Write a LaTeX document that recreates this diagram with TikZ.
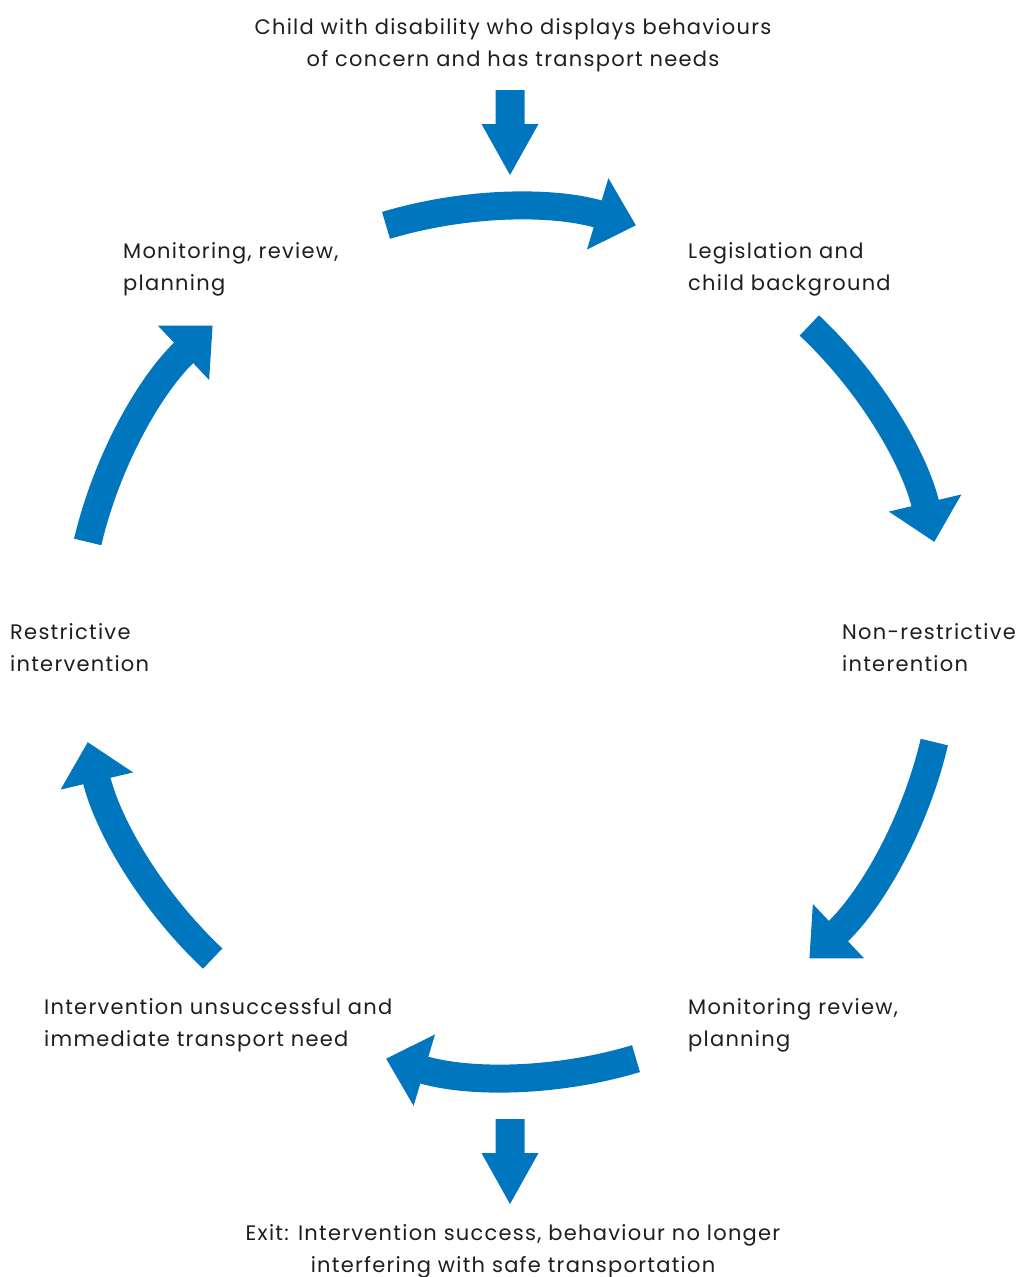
\documentclass[tikz,border=0pt]{standalone}
\usepackage{fontspec}
\setmainfont[LetterSpace=6]{Poppins}
\usetikzlibrary{arrows.meta,calc}
\definecolor{flowblue}{RGB}{0,118,190}
\definecolor{txt}{RGB}{30,30,30}
\begin{document}
\begin{tikzpicture}[x=1pt,y=1pt,
  lbl/.style={inner sep=0pt, text=txt, font=\fontsize{21}{32}\selectfont, align=left, anchor=base west},
  clbl/.style={lbl, align=center, anchor=base},
  cyc/.style={draw=flowblue, line width=28pt, -{Triangle[width=72pt,length=40pt]}},
  downarrow/.style={fill=flowblue}
]
\useasboundingbox (0,0) rectangle (1022,-1277);
\coordinate (C) at (511,-642);
% cycle arcs
\foreach \m in {90,30,-30,-90,-150,150}{
  \draw[cyc] ($(C)+(\m+16.7:435pt)$) arc[start angle=\m+16.7, end angle=\m-16.7, radius=435pt];
}
% down arrows
\fill[downarrow] (495.5,-90) -- (524.5,-90) -- (524.5,-124) -- (538.5,-124) -- (510,-175) -- (481.5,-124) -- (495.5,-124) -- cycle;
\fill[downarrow] (495.5,-1119) -- (524.5,-1119) -- (524.5,-1153) -- (538.5,-1153) -- (510,-1204) -- (481.5,-1153) -- (495.5,-1153) -- cycle;
% labels (base anchor = baseline of last line)
\node[clbl] (start) at (513,-66) {Child with disability who displays behaviours\\of concern and has transport needs};
\node[lbl] (mon1) at (123,-290) {Monitoring, review,\\planning};
\node[lbl] (leg) at (688,-290) {Legislation and\\child background};
\node[lbl] (res) at (10,-671) {Restrictive\\intervention};
\node[lbl] (nonres) at (842,-671) {Non-restrictive\\interention};
\node[lbl] (unsucc) at (44,-1046) {Intervention unsuccessful and\\immediate transport need};
\node[lbl] (mon2) at (688,-1046) {Monitoring review,\\planning};
\node[clbl] (exit) at (513,-1272) {Exit: Intervention success, behaviour no longer\\interfering with safe transportation};
\end{tikzpicture}
\end{document}
